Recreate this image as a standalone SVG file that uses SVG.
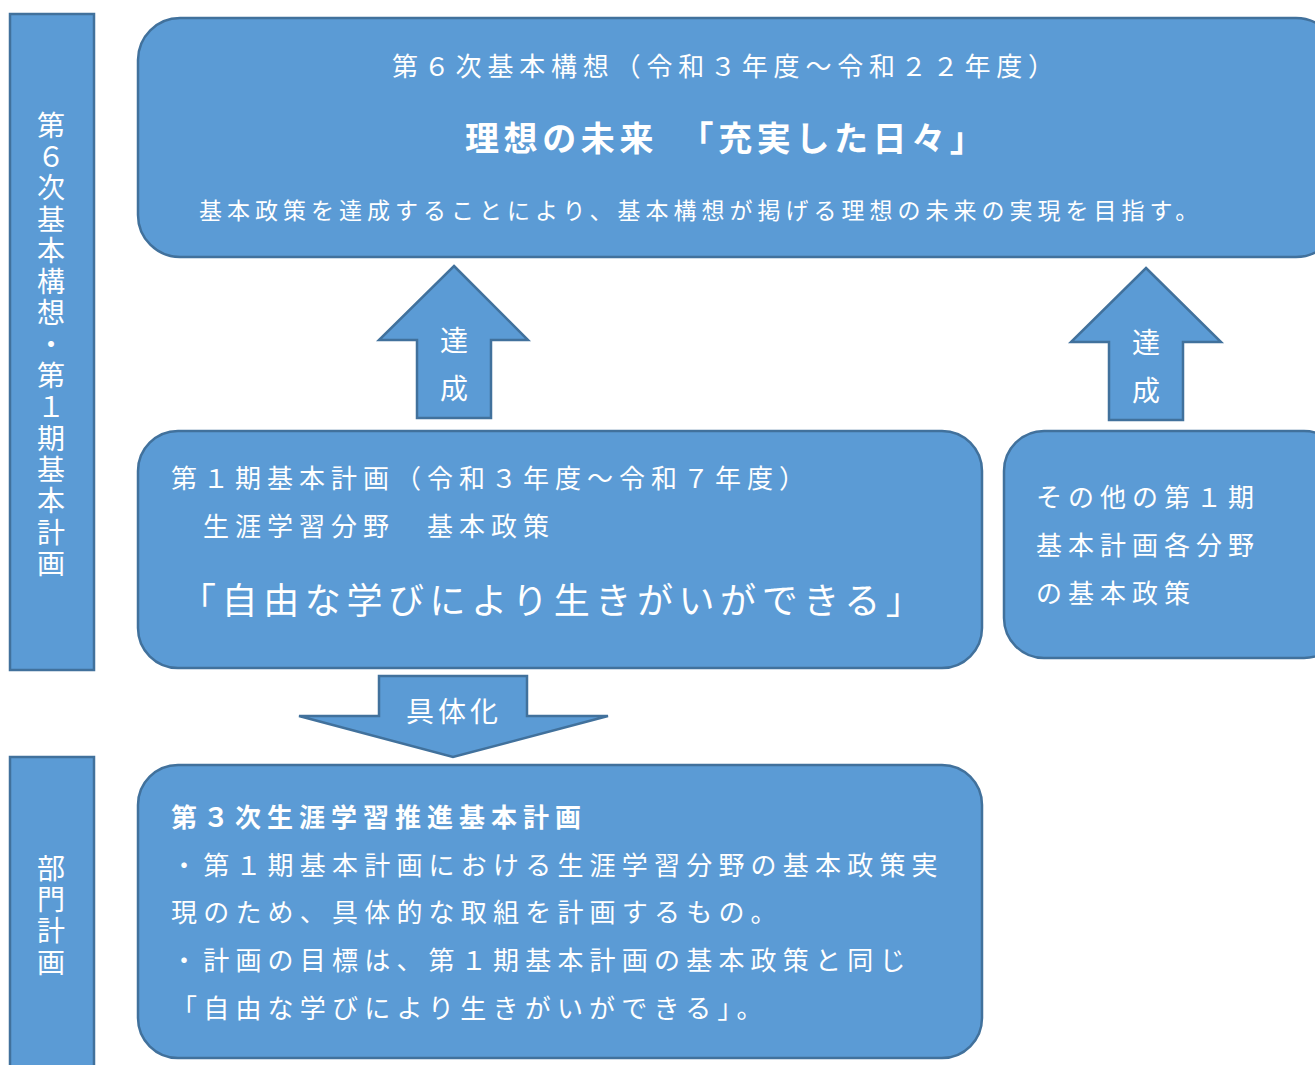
<svg xmlns="http://www.w3.org/2000/svg" width="1315" height="1065" viewBox="0 0 1315 1065">
<style>
.box{fill:#5B9BD5;stroke:#41719C;stroke-width:2.5}
.t{fill:#fff;font-family:"Noto Sans CJK JP","Noto Sans",sans-serif;font-size:26px}
.b{font-weight:bold}
.v{writing-mode:vertical-rl;font-size:28px}
</style>
<rect width="1315" height="1065" fill="#fff"/>
<g id="side1">
<rect class="box" x="10" y="14" width="84" height="656"/>
<text class="t v" x="51" y="111" style="letter-spacing:3.3px">第６次基本構想・第１期基本計画</text>
</g>
<g id="side2">
<rect class="box" x="10" y="757" width="84" height="320"/>
<text class="t v" x="51" y="854" style="letter-spacing:3.3px">部門計画</text>
</g>
<g id="vision">
<rect class="box" x="138" y="18" width="1200" height="239" rx="42"/>
<text class="t" x="392" y="76" style="letter-spacing:5.8px">第６次基本構想（令和３年度～令和２２年度）</text>
<text class="t b" x="465" y="151" style="font-size:34px;letter-spacing:4.6px">理想の未来　「充実した日々」</text>
<text class="t" x="199" y="219" style="font-size:23px;letter-spacing:5px">基本政策を達成することにより、基本構想が掲げる理想の未来の実現を目指す。</text>
</g>
<g id="connectors">
<g id="arrow1">
<polygon class="box" points="454,266 528,340 491,340 491,418 417,418 417,340 379,340"/>
<text class="t v" x="454" y="326" style="letter-spacing:20px">達成</text>
</g>
<g id="arrow2">
<polygon class="box" points="1146,268 1221,342 1183,342 1183,420 1109,420 1109,342 1071,342"/>
<text class="t v" x="1146" y="328" style="letter-spacing:20px">達成</text>
</g>
<g id="arrow3">
<polygon class="box" points="379,676 527,676 527,716 608,716 453,757 299,716 379,716"/>
<text class="t" x="406" y="722" style="font-size:28px;letter-spacing:4px">具体化</text>
</g>
</g>
<g id="plan1">
<rect class="box" x="138" y="431" width="844" height="237" rx="40"/>
<text class="t" x="171" y="488" style="letter-spacing:6px">第１期基本計画（令和３年度～令和７年度）</text>
<text class="t" x="171" y="536" style="letter-spacing:6px">　生涯学習分野　基本政策</text>
<text class="t" x="180" y="614" style="font-size:36px;letter-spacing:5.6px">「自由な学びにより生きがいができる」</text>
</g>
<g id="others">
<rect class="box" x="1004" y="431" width="340" height="227" rx="40"/>
<text class="t" style="letter-spacing:6px"><tspan x="1036" y="507">その他の第１期</tspan><tspan x="1036" y="555">基本計画各分野</tspan><tspan x="1036" y="603">の基本政策</tspan></text>
</g>
<g id="plan3">
<rect class="box" x="138" y="765" width="844" height="293" rx="40"/>
<text class="t b" x="171" y="827" style="letter-spacing:6px">第３次生涯学習推進基本計画</text>
<text class="t" style="letter-spacing:6.2px"><tspan x="171" y="875">・第１期基本計画における生涯学習分野の基本政策実</tspan><tspan x="171" y="922">現のため、具体的な取組を計画するもの。</tspan><tspan x="171" y="970">・計画の目標は、第１期基本計画の基本政策と同じ</tspan><tspan x="171" y="1018">「自由な学びにより生きがいができる」。</tspan></text>
</g>
</svg>
